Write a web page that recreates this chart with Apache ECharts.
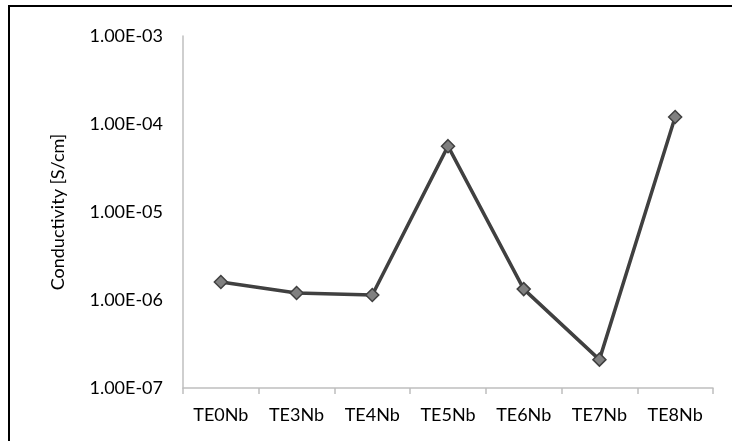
<!DOCTYPE html>
<html>
<head>
<meta charset="utf-8">
<script src="https://cdn.jsdelivr.net/npm/echarts@6/dist/echarts.min.js"></script>
<style>html,body{margin:0;padding:0;background:#fff}#c{width:732px;height:441px}</style>
</head>
<body>
<div id="c"></div>
<script>
var categories = ['TE0Nb','TE3Nb','TE4Nb','TE5Nb','TE6Nb','TE7Nb','TE8Nb'];
var conductivity = [1.6e-6, 1.2e-6, 1.14e-6, 5.6e-5, 1.33e-6, 2.1e-7, 1.2e-4];
var yAxisName = 'Conductivity [S/cm]';

function fmt(v){
  var e = Math.round(Math.log10(v));
  var m = v / Math.pow(10, e);
  var s = Math.abs(e) < 10 ? '0' + Math.abs(e) : '' + Math.abs(e);
  return m.toFixed(2) + 'E' + (e < 0 ? '-' : '+') + s;
}

var chart = echarts.init(document.getElementById('c'));
var font = 'Lato';
chart.setOption({
  animation: false,
  textStyle: {fontFamily: font},
  graphic: [{
    type: 'rect', shape: {x: 9, y: 6, width: 760, height: 460},
    style: {fill: 'none', stroke: '#000', lineWidth: 2}, silent: true
  }],
  grid: {left: 183, right: 19, top: 36, bottom: 53},
  xAxis: {
    type: 'category', data: categories, boundaryGap: true,
    axisLine: {lineStyle: {color: '#bfbfbf', width: 1.5}},
    axisTick: {show: true, length: 6, lineStyle: {color: '#bfbfbf', width: 1.5}},
    axisLabel: {color: '#000', fontSize: 18, fontFamily: font, margin: 18}
  },
  yAxis: {
    type: 'log', logBase: 10, min: 1e-7, max: 1e-3,
    name: yAxisName, nameLocation: 'middle', nameGap: 116, nameRotate: 90,
    nameTextStyle: {color: '#000', fontSize: 18, fontFamily: font},
    axisLine: {show: true, lineStyle: {color: '#bfbfbf', width: 1.5}},
    axisTick: {show: false},
    splitLine: {show: false},
    minorTick: {show: false},
    axisLabel: {color: '#000', fontSize: 18, fontFamily: font, margin: 20, formatter: fmt}
  },
  series: [{
    type: 'line', data: conductivity,
    symbol: 'diamond', symbolSize: 13,
    lineStyle: {color: '#404040', width: 3.5},
    itemStyle: {color: '#808080', borderColor: '#404040', borderWidth: 1.5}
  }]
});
</script>
</body>
</html>
